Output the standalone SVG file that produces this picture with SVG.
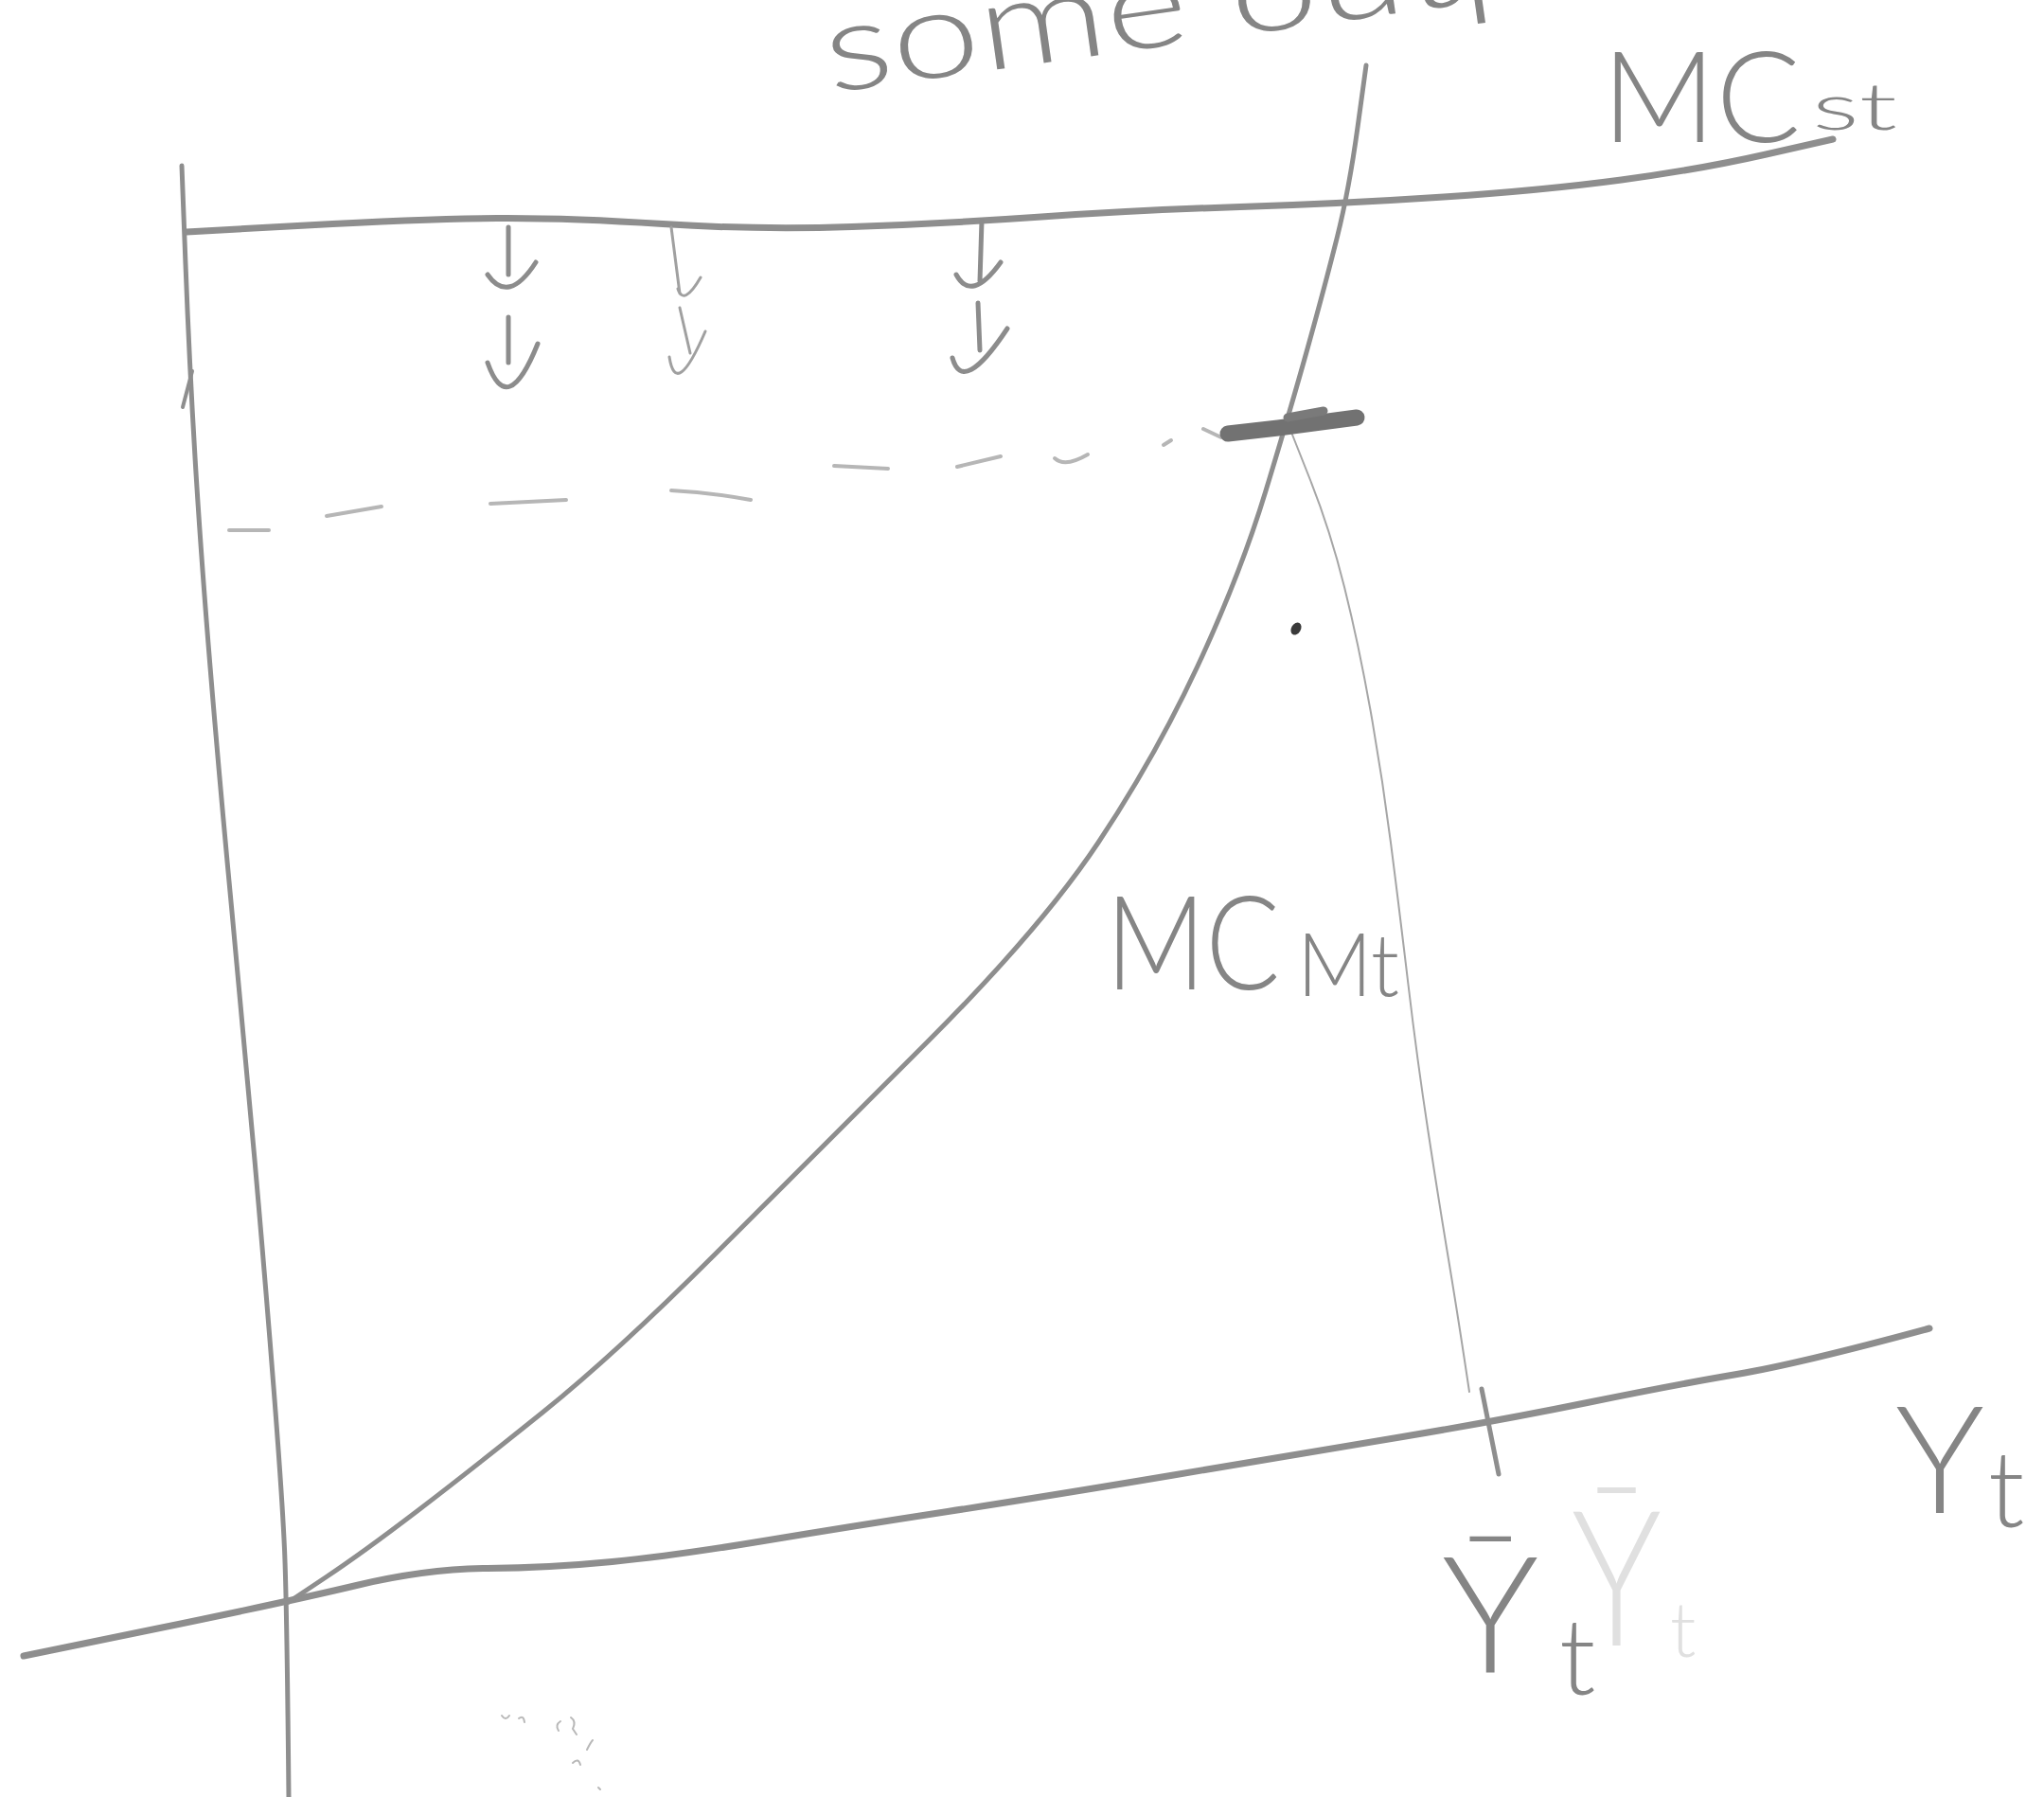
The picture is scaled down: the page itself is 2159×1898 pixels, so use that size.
<svg xmlns="http://www.w3.org/2000/svg" width="2159" height="1898" viewBox="0 0 2159 1898">
<style>
.pen{fill:none;stroke:#8e8e8e;stroke-linecap:round;stroke-linejoin:round}
.thin{fill:none;stroke:#a6a6a6;stroke-width:2;stroke-linecap:round;stroke-linejoin:round}
.dash{fill:none;stroke:#b6b6b6;stroke-width:4;stroke-linecap:round}
.arrow{fill:none;stroke:#8c8c8c;stroke-width:5;stroke-linecap:round;stroke-linejoin:round}
.arrow.light{stroke:#a0a0a0;stroke-width:3}
.lbl{font-family:Lato,"Liberation Sans","DejaVu Sans",sans-serif;font-weight:300;fill:#858585}
.ghost{font-family:Lato,"DejaVu Sans","Liberation Sans",sans-serif;font-weight:300;fill:#e0e0e0}
</style>
<rect width="2159" height="1898" fill="#ffffff"/>

<g id="title-text">
  <text class="lbl" x="877" y="98" font-size="130" textLength="915" lengthAdjust="spacingAndGlyphs" transform="rotate(-8 877 98)">some output</text>
</g>

<g id="axes">
  <path id="y-axis" class="pen" stroke-width="5" d="M192,175 L196,279 Q200,383 206,483 Q212,583 222,704.5 Q232,826 245,963 Q258,1100 269,1225 Q280,1350 289,1465 Q298,1580 300.5,1636 Q303,1692 305,1898"/>
  <path class="pen" stroke-width="4" d="M193,430 L203,392"/>
  <path id="x-axis" class="pen" stroke-width="7" d="M25,1749 L164,1720.5 Q303,1692 376.5,1674.5 Q450,1657 515,1656.5 Q580,1656 646.5,1649.5 Q713,1643 806.5,1627.5 Q900,1612 1001,1596.5 Q1102,1581 1239.5,1558 Q1377,1535 1481.5,1517.5 Q1586,1500 1676.5,1481.5 Q1767,1463 1834.5,1451.5 Q1902,1440 2038,1403"/>
  <path id="ybar-tick" class="pen" stroke-width="5" d="M1565,1467 L1583,1557"/>
</g>

<g id="mc-st">
  <path class="pen" stroke-width="7" d="M197,245 L323.5,238 Q450,231 525,230.5 Q600,230 700,236.5 Q800,243 900,239.5 Q1000,236 1100,229 Q1200,222 1310,218.5 Q1420,215 1525,208 Q1630,201 1712.5,190 Q1795,179 1865.5,163 L1936,147"/>
  <text class="lbl" x="1692" y="150" font-size="135" textLength="210" lengthAdjust="spacingAndGlyphs">MC</text>
  <text class="lbl" x="1914" y="137" font-size="68" textLength="90" lengthAdjust="spacingAndGlyphs">st</text>
</g>

<g id="mc-mt">
  <path class="pen" stroke-width="5" d="M305,1692 L344,1666 Q383,1640 440,1596.5 Q497,1553 573.5,1491.5 Q650,1430 755,1325 Q860,1220 980,1100 Q1100,980 1160,890 Q1220,800 1265,703.5 Q1310,607 1336.5,520 Q1363,433 1381.5,366.5 Q1400,300 1412.5,250 Q1425,200 1434,134.5 L1443,69"/>
  <text class="lbl" x="1168" y="1045" font-size="138" textLength="184" lengthAdjust="spacingAndGlyphs">MC</text>
  <text class="lbl" x="1370" y="1052" font-size="92" textLength="108" lengthAdjust="spacingAndGlyphs">Mt</text>
</g>

<g id="connectors">
  <path id="ybar-drop" class="thin" d="M1363,454 L1384,507 Q1405,560 1420,620 Q1435,680 1447.5,750 Q1460,820 1469,890 Q1478,960 1487.5,1040 Q1497,1120 1508.5,1195 Q1520,1270 1530,1330 Q1540,1390 1552,1470"/>
  <g id="dashed-level">
    <path class="dash" d="M242,560 L284,560"/>
    <path class="dash" d="M345,545 L403,535"/>
    <path class="dash" d="M518,532 L598,528"/>
    <path class="dash" d="M709,518 Q750,520 793,528"/>
    <path class="dash" d="M881,492 L938,495"/>
    <path class="dash" d="M1011,493 L1057,482"/>
    <path class="dash" d="M1114,484 Q1125,494 1149,480"/>
    <path class="dash" d="M1229,470 L1237,465"/>
    <path class="dash" d="M1271,453 L1290,462"/>
  </g>
  <g id="intersection-mark">
    <path d="M1297,458 L1350,452 L1433,441" fill="none" stroke="#727272" stroke-width="17" stroke-linecap="round" stroke-linejoin="round"/>
    <path d="M1360,441 L1398,434" fill="none" stroke="#7a7a7a" stroke-width="9" stroke-linecap="round"/>
    <ellipse cx="1369" cy="664" rx="5" ry="7" fill="#3a3a3a" transform="rotate(30 1369 664)"/>
  </g>
  <g id="shift-arrows">
    <path class="arrow" d="M537,240 L537,290 M515,290 Q537,322 566,277"/>
    <path class="arrow" d="M537,335 L537,383 M515,383 Q536,443 568,363"/>
    <path class="arrow light" d="M709,240 L718,310 M716,305 Q722,324 740,293"/>
    <path class="arrow light" d="M718,325 L729,373 M707,377 Q714,422 745,350"/>
    <path class="arrow" d="M1037,233 L1035,297 M1010,290 Q1026,320 1057,277"/>
    <path class="arrow" d="M1033,320 L1035,370 M1006,378 Q1017,418 1064,347"/>
  </g>
</g>

<g id="ybar-label">
  <text class="lbl" x="1523" y="1767" font-size="172">Ȳ</text>
  <text class="lbl" x="1647" y="1790" font-size="112">t</text>
</g>

<g id="ghost-label">
  <text class="ghost" x="1660" y="1738" font-size="200" textLength="95" lengthAdjust="spacingAndGlyphs">Ȳ</text>
  <text class="ghost" x="1764" y="1750" font-size="80">t</text>
</g>

<g id="yt-label">
  <text class="lbl" x="2002" y="1598" font-size="158">Y</text>
  <text class="lbl" x="2100" y="1613" font-size="112">t</text>
</g>

<g id="smudges" fill="none" stroke="#b8b8b8" stroke-width="2" stroke-linecap="round">
  <path d="M530,1812 q4,6 8,0 M548,1815 q5,-4 6,4"/>
  <path d="M592,1818 q-6,4 -2,10 M603,1814 q6,4 2,12 l4,6"/>
  <path d="M605,1862 q6,-6 8,2 M620,1848 q4,-8 6,-10 M632,1888 l2,2"/>
</g>
</svg>
